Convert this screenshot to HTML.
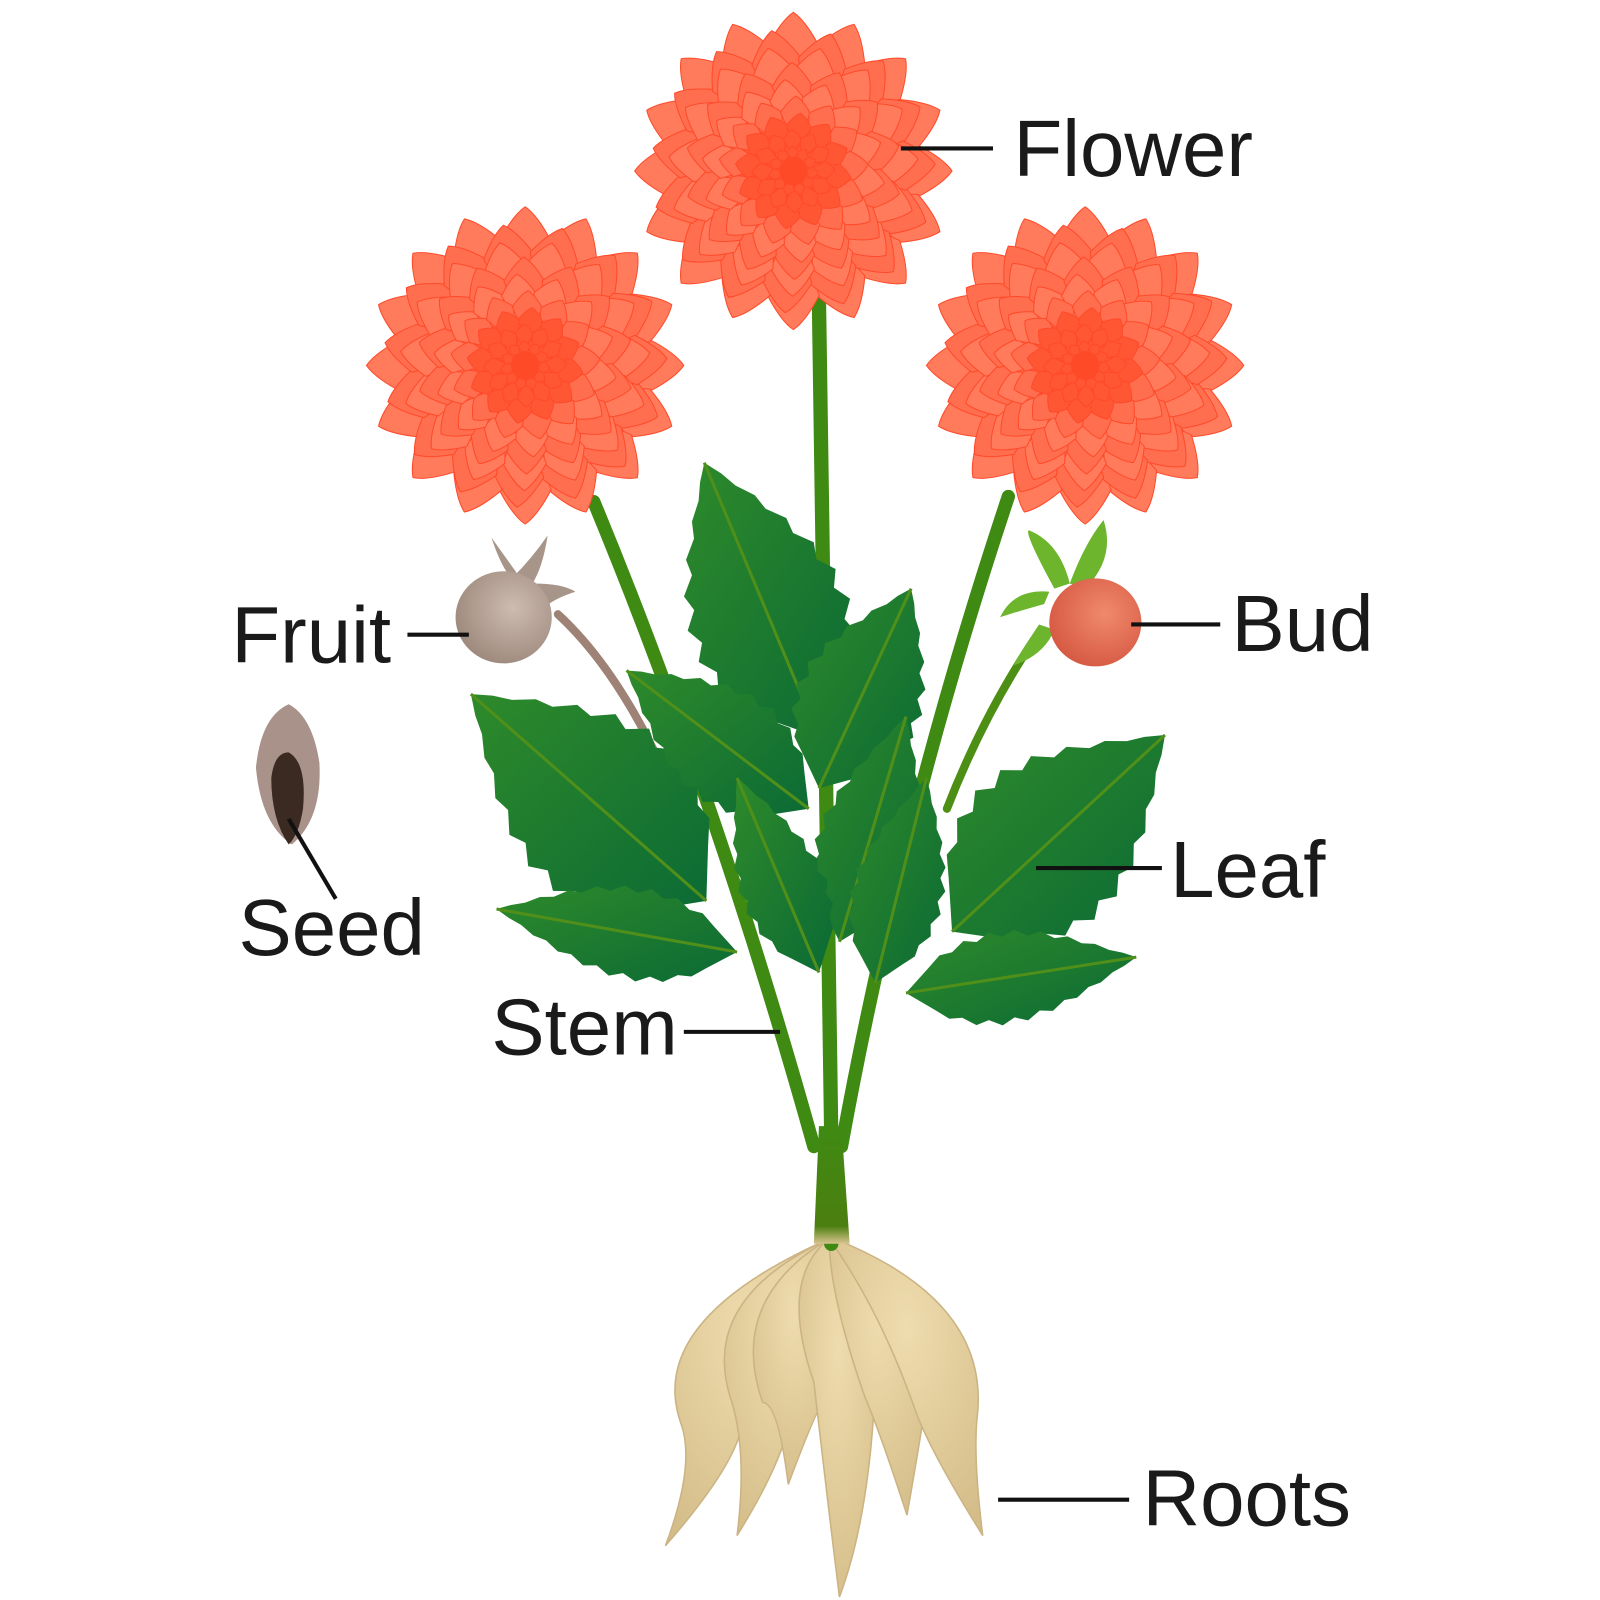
<!DOCTYPE html>
<html><head><meta charset="utf-8"><style>
html,body{margin:0;padding:0;background:#fff;width:1600px;height:1600px;overflow:hidden}
svg{display:block}
text{font-family:"Liberation Sans",sans-serif;font-size:78px;fill:#1a1a1a}
</style></head><body>
<svg id="s" width="1600" height="1600" viewBox="0 0 1600 1600" xmlns="http://www.w3.org/2000/svg">
<defs>
<radialGradient id="pet" cx="0.5" cy="1" r="1"><stop offset="0" stop-color="#ff3a1c"/><stop offset="1" stop-color="#ff8a6a"/></radialGradient>
<linearGradient id="lf" x1="0" y1="0" x2="1" y2="1"><stop offset="0" stop-color="#2e8a2a"/><stop offset="1" stop-color="#0b6a35"/></linearGradient>
<linearGradient id="stemg" x1="0" y1="0" x2="0" y2="1"><stop offset="0" stop-color="#3f8a12"/><stop offset="0.85" stop-color="#4b7f10"/><stop offset="1" stop-color="#d8c48f"/></linearGradient>
<radialGradient id="root" cx="0.5" cy="0.3" r="0.8"><stop offset="0" stop-color="#efdcae"/><stop offset="1" stop-color="#d3bc88"/></radialGradient>
<radialGradient id="fr" cx="0.6" cy="0.4" r="0.7"><stop offset="0" stop-color="#cdbcb0"/><stop offset="1" stop-color="#9a8478"/></radialGradient>
<radialGradient id="bud" cx="0.6" cy="0.4" r="0.7"><stop offset="0" stop-color="#f08a6c"/><stop offset="1" stop-color="#d4553f"/></radialGradient>
</defs>
<g transform="scale(1.0237)">
<g id="roots"></g>
<g id="stems" fill="none" stroke-linecap="round">
<path d="M800 295 Q805 700 812 1110 L812 1215" stroke="#3f8a12" stroke-width="14"/>
<path d="M580 490 Q700 780 795 1120" stroke="#3f8a12" stroke-width="13"/>
<path d="M985 485 Q880 800 822 1120" stroke="#3f8a12" stroke-width="13"/>
<path d="M1010 625 Q960 700 925 790" stroke="#4d8f15" stroke-width="8"/>
<path d="M545 600 Q610 660 660 780" stroke="#9d8275" stroke-width="8"/>
<path d="M800 1100 L822 1100 L830 1215 L795 1215 Z" fill="url(#stemg)" stroke="none"/>
</g>
<g id="leaves"></g>
<g id="flowers"></g>
<path d="M480 525 Q490 555 500 565 Q520 545 535 523 Q530 555 520 570 Q550 570 562 578 Q540 585 530 595 Z" fill="#a8958a"/>
<ellipse cx="492" cy="603" rx="47" ry="45" fill="url(#fr)"/>
<path d="M1020 590 Q985 600 977 603 Q990 575 1025 578 Z M1030 575 Q1000 520 1005 518 Q1035 530 1045 570 Z M1045 570 Q1060 530 1078 508 Q1090 545 1060 575 Z M1015 610 Q995 640 990 650 Q1020 640 1030 615 Z" fill="#6cb52d"/>
<ellipse cx="1070" cy="608" rx="45" ry="43" fill="url(#bud)"/>
<path d="M282 688 Q305 700 312 745 Q315 800 285 825 Q255 805 250 750 Q255 700 282 688 Z" fill="#a8928a"/>
<path d="M282 735 Q300 745 296 790 Q292 815 282 825 Q265 800 265 760 Q268 735 282 735 Z" fill="#3b2a22"/>
<g stroke="#111" stroke-width="4">
<line x1="880" y1="145" x2="970" y2="145"/>
<line x1="398" y1="620" x2="458" y2="620"/>
<line x1="282" y1="800" x2="328" y2="878"/>
<line x1="668" y1="1008" x2="762" y2="1008"/>
<line x1="1012" y1="848" x2="1135" y2="848"/>
<line x1="1105" y1="610" x2="1192" y2="610"/>
<line x1="975" y1="1465" x2="1103" y2="1465"/>
</g>
<text x="990" y="172">Flower</text>
<text x="226" y="647">Fruit</text>
<text x="233" y="933">Seed</text>
<text x="480" y="1030">Stem</text>
<text x="1143" y="876">Leaf</text>
<text x="1203" y="636">Bud</text>
<text x="1116" y="1490">Roots</text>
</g>
</svg>
<script>
const NS="http://www.w3.org/2000/svg";
function el(t,a,p){const e=document.createElementNS(NS,t);for(const k in a)e.setAttribute(k,a[k]);p.appendChild(e);return e;}
const F=document.getElementById('flowers');
[[775,167,155],[513,357,155],[1060,357,155]].forEach(([cx,cy,R])=>{
  const g=el('g',{},F);
  el('circle',{cx,cy,r:R*0.8,fill:'#ff5a3a'},g);
  const rings=9;
  for(let i=0;i<rings;i++){
    const r=R*(1-i/rings*0.95), n=Math.max(8,Math.round(16-i*0.6)), off=i*0.37;
    for(let j=0;j<n;j++){
      const a=off+j*2*Math.PI/n, w=Math.PI/n*1.05;
      const r0=r*0.35;
      const tx=cx+r*Math.cos(a), ty=cy+r*Math.sin(a);
      const lx=cx+r*0.8*Math.cos(a-w), ly=cy+r*0.8*Math.sin(a-w);
      const rx=cx+r*0.8*Math.cos(a+w), ry=cy+r*0.8*Math.sin(a+w);
      const bx=cx+r0*Math.cos(a), by=cy+r0*Math.sin(a);
      const col=i>5?'#ff5634':(i%2?'#ff6e4e':'#ff7b5c');
      el('path',{d:`M${bx} ${by} L${lx} ${ly} Q${cx+r*0.95*Math.cos(a-w*0.4)} ${cy+r*0.95*Math.sin(a-w*0.4)} ${tx} ${ty} Q${cx+r*0.95*Math.cos(a+w*0.4)} ${cy+r*0.95*Math.sin(a+w*0.4)} ${rx} ${ry} Z`,fill:col,stroke:'#ff4a2a','stroke-width':1},g);
    }
  }
  el('circle',{cx,cy,r:14,fill:'#ff4a28'},g);
});
const L=document.getElementById('leaves');
function leaf(bx,by,tx,ty,w){
  const dx=tx-bx,dy=ty-by,len=Math.hypot(dx,dy),ux=dx/len,uy=dy/len,nx=-uy,ny=ux;
  const N=9;let L1=[],R1=[];
  for(let i=1;i<N;i++){
    const t=i/N, hw=w/2*Math.sin(Math.PI*Math.pow(t,0.8));
    const t2=t+0.5/N, hw2=w/2*Math.sin(Math.PI*Math.pow(t2,0.8))*1.15;
    const p=(tt,h,s)=>[bx+dx*tt+nx*h*s,by+dy*tt+ny*h*s];
    L1.push(p(t,hw,1),p(t2,hw2,1)); R1.push(p(t,hw,-1),p(t2,hw2,-1));
  }
  const pts=[[bx,by],...L1,[tx,ty],...R1.reverse()];
  el('path',{d:'M'+pts.map(p=>p.join(' ')).join(' L')+'Z',fill:'url(#lf)'},L);
  el('path',{d:`M${bx} ${by} L${tx} ${ty}`,stroke:'#4f8f1a','stroke-width':3},L);
}
leaf(690,880,460,678,160);
leaf(720,930,485,888,80);
leaf(800,720,688,452,140);
leaf(790,790,612,655,100);
leaf(800,770,890,575,110);
leaf(820,920,885,700,90);
leaf(930,910,1138,718,150);
leaf(885,970,1110,935,80);
leaf(800,950,720,760,75);
leaf(855,960,905,760,80);
const R=document.getElementById('roots');
[[690,1370,1510,-1],[740,1350,1500,-0.5],[770,1350,1450,0],[820,1330,1560,0],[870,1345,1480,0.4],[920,1360,1500,1]].forEach(([x,y,tip,s])=>{
  el('path',{d:`M810 1210 Q${x-60} ${y-80} ${x-25} ${y+20} Q${x-10} ${tip-80} ${x+s*40} ${tip} Q${x+30} ${tip-80} ${x+35} ${y+20} Q${x+45} ${y-90} 815 1210 Z`,fill:'url(#root)',stroke:'#cbb383','stroke-width':1.5},R);
});
</script>
</body></html>
